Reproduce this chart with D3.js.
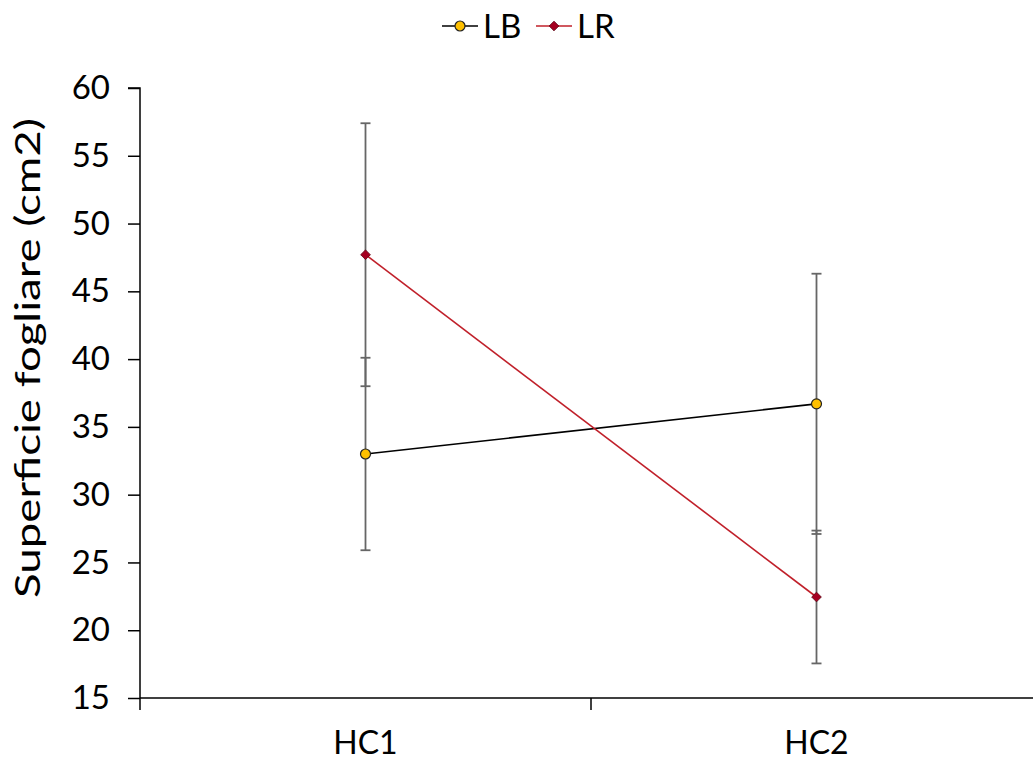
<!DOCTYPE html>
<html><head><meta charset="utf-8">
<script src="https://cdn.jsdelivr.net/npm/d3@7"></script>
<style>body{margin:0;background:#fff;} text{font-family:Lato,"Open Sans",sans-serif;}</style>
</head><body>
<svg id="c" width="1033" height="762"></svg>
<script>
const categories = ["HC1", "HC2"];
const seriesNames = ["LB", "LR"];
const lbValues = [33.0, 36.7];
const lbErrors = [7.1, 9.6];
const lrValues = [47.7, 22.45];
const lrErrors = [9.7, 4.9];
const yTicks = [15, 20, 25, 30, 35, 40, 45, 50, 55, 60];

(function () {
const svg = d3.select("#c");
const mLeft = 140, mRight = 1042, mTop = 88, mBottom = 698;
const x = d3.scaleBand().domain(categories).range([mLeft, mRight]);
const y = d3.scaleLinear().domain([15, 60]).range([mBottom, mTop]);
const cx = c => x(c) + x.bandwidth() / 2;

// axes
const yAxis = svg.append("g").attr("transform", `translate(${mLeft},0)`)
  .call(d3.axisLeft(y).tickValues(yTicks).tickSize(12).tickPadding(18));
yAxis.select(".domain").attr("stroke", "#000").attr("stroke-width", 1.5).attr("d", `M-12,${mTop}H0V${mBottom}`);
yAxis.selectAll(".tick line").attr("stroke", "#000").attr("stroke-width", 1.5);
yAxis.selectAll(".tick text").attr("font-size", 33).attr("fill", "#000");

const xAxis = svg.append("g").attr("transform", `translate(0,${mBottom})`)
  .call(d3.axisBottom(x).tickSize(0).tickPadding(33));
xAxis.select(".domain").attr("stroke", "#000").attr("stroke-width", 1.5).attr("d", `M${mLeft},0H1033`);
xAxis.selectAll(".tick text").attr("font-size", 32).attr("fill", "#000");
const bounds = [mLeft, x(categories[1])];
svg.append("g").selectAll("line").data(bounds).join("line")
  .attr("x1", d => d).attr("x2", d => d).attr("y1", mBottom).attr("y2", mBottom + 12)
  .attr("stroke", "#000").attr("stroke-width", 1.5);

// y title
svg.append("text").attr("transform", `translate(40,358) rotate(-90)`)
  .attr("text-anchor", "middle").attr("font-size", 34).attr("fill", "#000")
  .attr("textLength", 480).attr("lengthAdjust", "spacingAndGlyphs")
  .text("Superficie fogliare (cm2)");

const series = [
  {name: "LB", values: lbValues, errors: lbErrors, line: "#000", fill: "#FFC000", shape: "circle"},
  {name: "LR", values: lrValues, errors: lrErrors, line: "#C0202A", fill: "#A50021", shape: "diamond"}
];

series.forEach(s => {
  const g = svg.append("g").attr("stroke", "#666").attr("stroke-width", 1.8);
  categories.forEach((c, i) => {
    const hi = s.values[i] + s.errors[i], lo = s.values[i] - s.errors[i];
    g.append("line").attr("x1", cx(c)).attr("x2", cx(c)).attr("y1", y(hi)).attr("y2", y(lo));
    [hi, lo].forEach(v => g.append("line").attr("x1", cx(c) - 5).attr("x2", cx(c) + 5).attr("y1", y(v)).attr("y2", y(v)));
  });
});

const lineGen = d3.line().x((d, i) => cx(categories[i])).y(d => y(d));
series.forEach(s => {
  svg.append("path").attr("d", lineGen(s.values)).attr("fill", "none")
    .attr("stroke", s.line).attr("stroke-width", 1.6);
});

function marker(g, s, px, py) {
  if (s.shape === "circle") {
    g.append("circle").attr("cx", px).attr("cy", py).attr("r", 5)
      .attr("fill", s.fill).attr("stroke", "#222").attr("stroke-width", 1.2);
  } else {
    g.append("path").attr("d", d3.symbol(d3.symbolDiamond2, 60)())
      .attr("transform", `translate(${px},${py})`)
      .attr("fill", s.fill).attr("stroke", "#5a0010").attr("stroke-width", 0.8);
  }
}
series.forEach(s => {
  const g = svg.append("g");
  s.values.forEach((v, i) => marker(g, s, cx(categories[i]), y(v)));
});

const legX = [442, 536];
series.forEach((s, i) => {
  const g = svg.append("g");
  g.append("line").attr("x1", legX[i]).attr("x2", legX[i] + 36).attr("y1", 26).attr("y2", 26)
    .attr("stroke", s.line).attr("stroke-width", 1.6);
  marker(g, s, legX[i] + 18, 26);
  g.append("text").attr("x", legX[i] + 41).attr("y", 38).attr("font-size", 33).attr("fill", "#000").text(seriesNames[i]);
});
})();
</script>
</body></html>
